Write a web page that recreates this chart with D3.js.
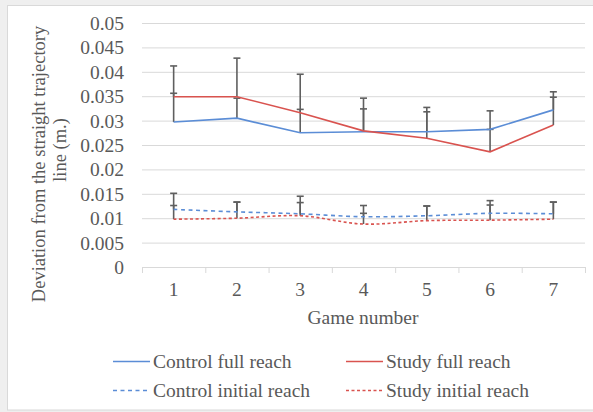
<!DOCTYPE html>
<html><head><meta charset="utf-8">
<script src="https://cdn.jsdelivr.net/npm/d3@7"></script>
<style>
html,body{margin:0;padding:0;background:#efefef;}
svg{display:block;}
</style></head>
<body>
<svg id="c" width="593" height="412" font-family="Liberation Serif"></svg>
<script>
const games = [1,2,3,4,5,6,7];
const controlFull = [0.0297,0.0305,0.0275,0.0277,0.0277,0.0282,0.0322];
const studyFull   = [0.0349,0.0349,0.0316,0.0279,0.0264,0.0236,0.0291];
const controlInit = [0.0118,0.0113,0.0109,0.0103,0.0105,0.0110,0.0109];
const studyInit   = [0.0098,0.0100,0.0105,0.0088,0.0095,0.0096,0.0098];
const controlFullErr = [0.0059,0.0041,0.0048,0.0047,0.0041,0.0038,0.0037];
const studyFullErr   = [0.0063,0.0079,0.0079,0.0067,0.0063,0.0046,0.0057];
const controlInitErr = [0.0033,0.0020,0.0023,0.0023,0.0020,0.0017,0.0024];
const studyInitErr   = [0.0028,0.0033,0.0040,0.0022,0.0030,0.0040,0.0035];
const yTicks = [0,0.005,0.01,0.015,0.02,0.025,0.03,0.035,0.04,0.045,0.05];
const seriesNames = ["Control full reach","Study full reach","Control initial reach","Study initial reach"];

const FONT = "Liberation Serif";
const FS = 19.5;
const TXT = "#595959";

const svg = d3.select("#c");
svg.append("rect").attr("x",7.5).attr("y",5.5).attr("width",590).attr("height",404.5)
  .attr("fill","#fff").attr("stroke","#d9d9d9");

const x = d3.scaleBand().domain(games).range([142,585]);
const y = d3.scaleLinear().domain([0,0.05]).range([267,23]);

svg.append("g").selectAll("line").data(yTicks.filter(d=>d>0)).join("line")
  .attr("x1",142).attr("x2",585).attr("y1",d=>y(d)+0.5).attr("y2",d=>y(d)+0.5)
  .attr("stroke","#d9d9d9").attr("stroke-width",1);

function label(sel, fs){ return sel.attr("font-family",FONT).attr("font-size",fs||FS).attr("fill",TXT); }

const yAxis = d3.axisLeft(y).tickValues(yTicks).tickSize(0).tickPadding(0)
  .tickFormat(d => d===0 ? "0" : String(+d.toFixed(3)));
const gy = svg.append("g").attr("transform","translate(124,0)").call(yAxis)
  .attr("font-family",FONT).attr("font-size",FS);
gy.select(".domain").remove();
label(gy.selectAll("text")).attr("dy","0.33em");

const xAxis = d3.axisBottom(x).tickSize(0).tickPadding(0);
const gx = svg.append("g").attr("transform","translate(0,267.5)").call(xAxis)
  .attr("font-family",FONT).attr("font-size",FS);
gx.select(".domain").attr("stroke","#d9d9d9").attr("d","M142,0H585");
label(gx.selectAll("text")).attr("y",22).attr("dy","0.33em");
const bounds = games.map(g=>x(g)).concat([x.range()[1]]);
svg.append("g").selectAll("line").data(bounds).join("line")
  .attr("x1",d=>d+0.5).attr("x2",d=>d+0.5).attr("y1",267).attr("y2",273)
  .attr("stroke","#d9d9d9");

const cx = g => x(g) + x.bandwidth()/2;

label(svg.append("text").attr("x",363).attr("y",318).attr("dy","0.33em").attr("text-anchor","middle"))
  .text("Game number");
label(svg.append("text").attr("transform","rotate(-90)").attr("x",-164).attr("y",39)
  .attr("dy","0.33em").attr("text-anchor","middle"), 18.5).text("Deviation from the straight trajectory");
label(svg.append("text").attr("transform","rotate(-90)").attr("x",-150).attr("y",60)
  .attr("dy","0.33em").attr("text-anchor","middle"), 18.5).text("line (m.)");

const blue = "#5b8dd6", red = "#d9534f", errC = "#5f5f5f";

const series = [
  {vals:controlFull, err:controlFullErr, color:blue, dash:null, curve:d3.curveLinear},
  {vals:studyFull, err:studyFullErr, color:red, dash:null, curve:d3.curveLinear},
  {vals:controlInit, err:controlInitErr, color:blue, dash:"4,3.5", curve:d3.curveCatmullRom},
  {vals:studyInit, err:studyInitErr, color:red, dash:"3,2.5", curve:d3.curveCatmullRom}
];

series.forEach(s=>{
  const g = svg.append("g").attr("stroke",errC).attr("stroke-width",1.6).attr("fill","none");
  games.forEach((gm,i)=>{
    const px = cx(gm), y0 = y(s.vals[i]), y1 = y(s.vals[i]+s.err[i]);
    g.append("line").attr("x1",px).attr("x2",px).attr("y1",y0).attr("y2",y1);
    g.append("line").attr("x1",px-3.5).attr("x2",px+3.5).attr("y1",y1).attr("y2",y1);
  });
});

series.forEach(s=>{
  const line = d3.line().x((d,i)=>cx(games[i])).y(d=>y(d)).curve(s.curve);
  svg.append("path").datum(s.vals).attr("d",line).attr("fill","none")
    .attr("stroke",s.color).attr("stroke-width",1.6)
    .attr("stroke-dasharray",s.dash);
});

const leg = [
  {name:seriesNames[0], s:series[0], x:113, y:361.5},
  {name:seriesNames[1], s:series[1], x:346, y:361.5},
  {name:seriesNames[2], s:series[2], x:113, y:390.5},
  {name:seriesNames[3], s:series[3], x:346, y:390.5}
];
leg.forEach(l=>{
  svg.append("line").attr("x1",l.x).attr("x2",l.x+37).attr("y1",l.y).attr("y2",l.y)
    .attr("stroke",l.s.color).attr("stroke-width",1.6).attr("stroke-dasharray",l.s.dash);
  label(svg.append("text").attr("x",l.x+40).attr("y",l.y).attr("dy","0.33em")).text(l.name);
});
</script>
</body></html>
